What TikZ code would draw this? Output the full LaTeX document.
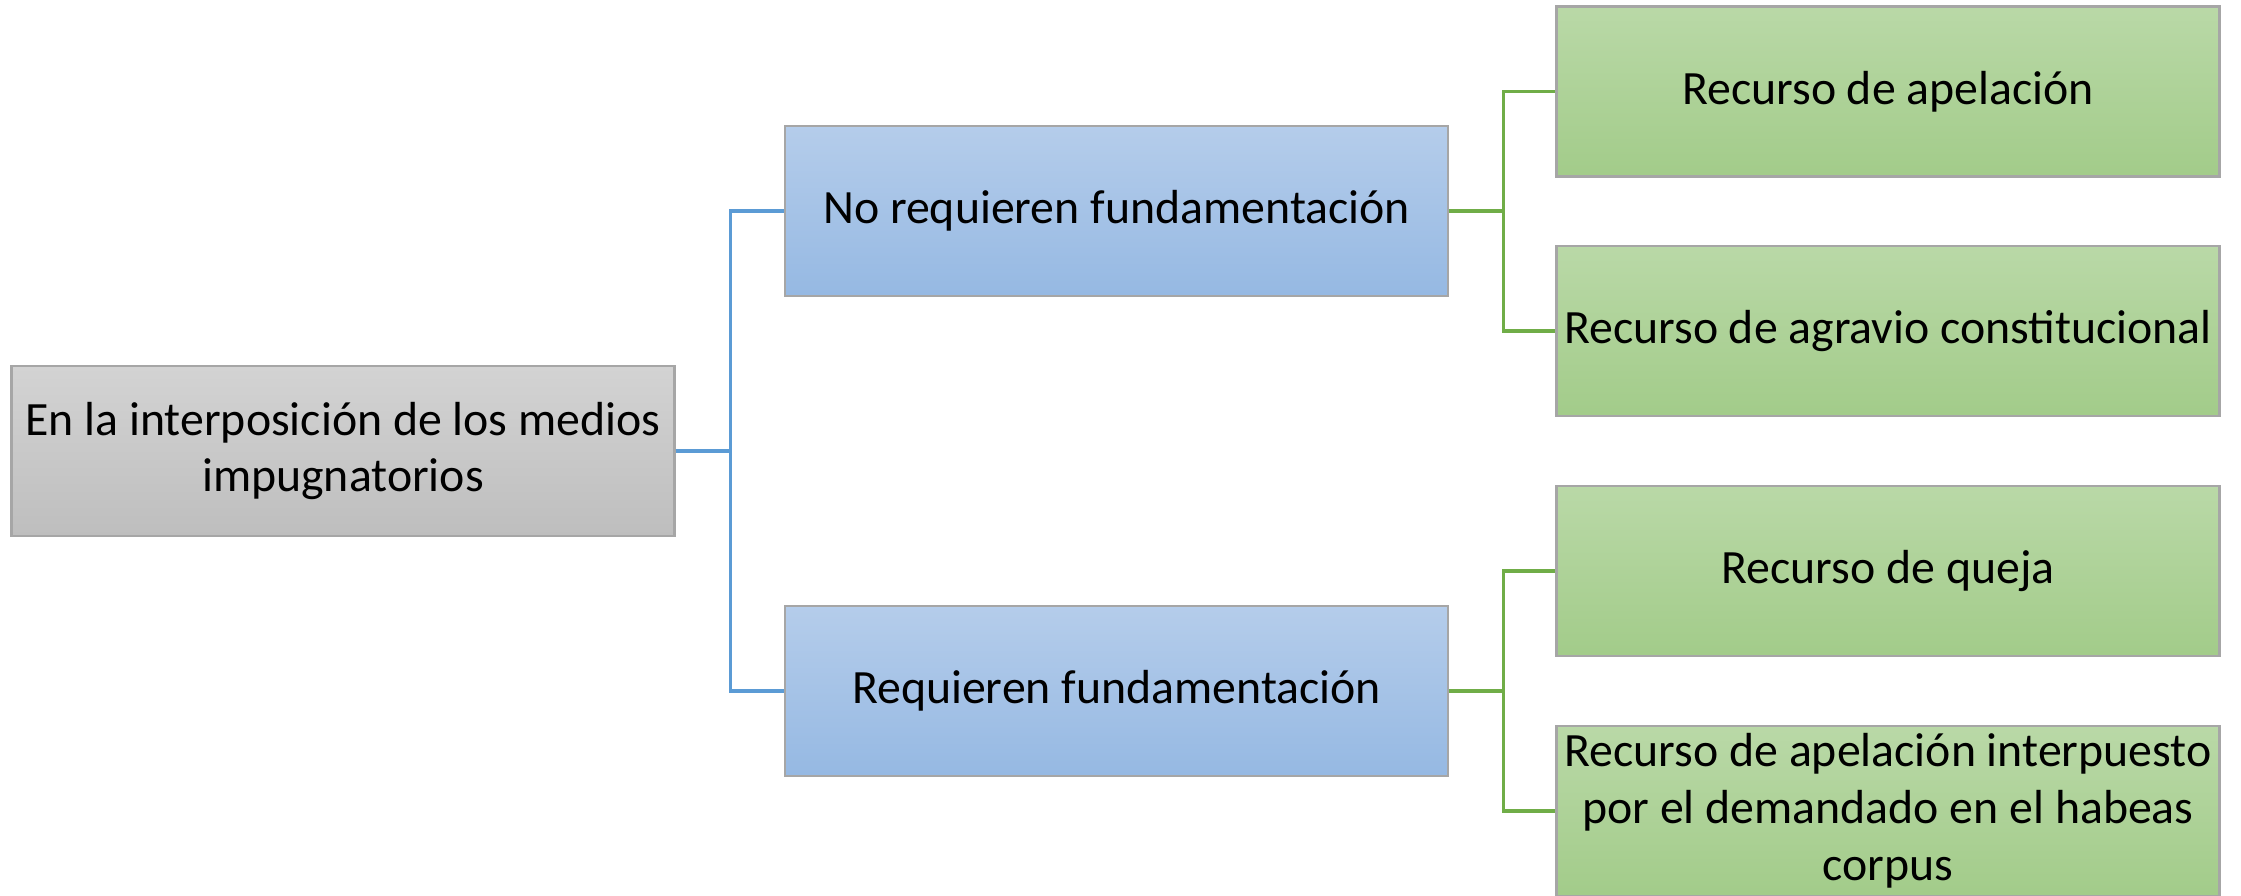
\documentclass[tikz,border=0pt]{standalone}
\usepackage{fontspec}
\setmainfont{Carlito}
\usepackage{xcolor}
\usetikzlibrary{
    arrows.meta,
    positioning,
    calc
}
\definecolor{rootgray}{RGB}{200, 200, 200}
\definecolor{boxblue}{RGB}{156, 188, 228}
\definecolor{boxgreen}{RGB}{168, 207, 145}
\definecolor{lineblue}{RGB}{91, 155, 213}
\definecolor{linegreen}{RGB}{112, 173, 71}

\begin{document}
\begin{tikzpicture}[
        block/.style={draw=black!35, line width=0.7pt, minimum width=6.63cm, minimum height=1.7cm, align=center, inner sep=1pt, font=\fontsize{13.6}{16.2}\selectfont},
        bline/.style={draw=lineblue, line width=0.9pt},
        gline/.style={draw=linegreen, line width=0.9pt}
    ]
        \useasboundingbox (0,0) rectangle (22.41,-8.95);

        % Root
        \node[block, top color=rootgray!80!white, bottom color=rootgray!95!black] (root) at (3.43, -4.51) {
            En la interposición de los medios\\
            impugnatorios
        };

        % Middle level
        \node[block, top color=boxblue!75!white, bottom color=boxblue!90!lineblue] (nofund) at (11.165, -2.11) {No requieren fundamentación};
        \node[block, top color=boxblue!75!white, bottom color=boxblue!90!lineblue] (fund) at (11.165, -6.91) {Requieren fundamentación};

        % Leaves
        \node[block, top color=boxgreen!80!white, bottom color=boxgreen!90!linegreen] (apel) at (18.88, -0.915) {Recurso de apelación};
        \node[block, top color=boxgreen!80!white, bottom color=boxgreen!90!linegreen] (agrav) at (18.88, -3.31) {Recurso de agravio constitucional};
        \node[block, top color=boxgreen!80!white, bottom color=boxgreen!90!linegreen] (queja) at (18.88, -5.71) {Recurso de queja};
        \node[block, top color=boxgreen!80!white, bottom color=boxgreen!90!linegreen] (habeas) at (18.88, -8.11) {
            Recurso de apelación interpuesto\\
            por el demandado en el habeas\\
            corpus
        };

        % Connectors
        \draw[bline] (root.east) -- ++(0.55,0) |- (nofund.west);
        \draw[bline] (root.east) -- ++(0.55,0) |- (fund.west);
        \draw[gline] (nofund.east) -- ++(0.54,0) |- (apel.west);
        \draw[gline] (nofund.east) -- ++(0.54,0) |- (agrav.west);
        \draw[gline] (fund.east) -- ++(0.54,0) |- (queja.west);
        \draw[gline] (fund.east) -- ++(0.54,0) |- (habeas.west);
    \end{tikzpicture}
\end{document}
